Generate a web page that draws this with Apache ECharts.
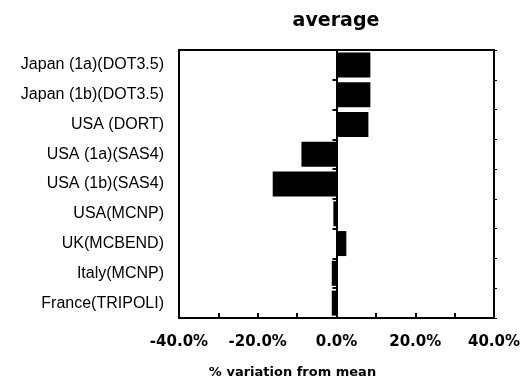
<!DOCTYPE html>
<html>
<head>
<meta charset="utf-8">
<script src="https://cdn.jsdelivr.net/npm/echarts@6/dist/echarts.min.js"></script>
<style>html,body{margin:0;padding:0;background:#fff}#c{width:528px;height:387px}</style>
</head>
<body>
<div id="c"></div>
<script>
const categories = ['Japan (1a)(DOT3.5)', 'Japan (1b)(DOT3.5)', 'USA (DORT)', 'USA (1a)(SAS4)', 'USA (1b)(SAS4)', 'USA(MCNP)', 'UK(MCBEND)', 'Italy(MCNP)', 'France(TRIPOLI)'];
const variation = [8.6, 8.6, 8.1, -8.9, -16.2, -0.8, 2.5, -1.2, -1.2];
const titleText = 'average';
const xName = '% variation from mean';

const chart = echarts.init(document.getElementById('c'), null, {renderer: 'canvas'});
chart.setOption({
  animation: false,
  backgroundColor: '#fff',
  title: {
    text: titleText, left: 331, top: 7, textAlign: 'center',
    textStyle: {fontFamily: 'DejaVu Sans', fontWeight: 'bold', fontSize: 19, color: '#000'}
  },
  grid: {left: 179, right: 34, top: 50, bottom: 69, show: true, borderColor: '#000', borderWidth: 2, containLabel: false},
  xAxis: {
    type: 'value', min: -40, max: 40, interval: 20,
    axisLine: {show: true, onZero: false, lineStyle: {color: '#000', width: 2}},
    axisTick: {show: true, inside: true, length: 5, lineStyle: {color: '#000', width: 2}},
    minorTick: {show: true, splitNumber: 2, length: 5, lineStyle: {color: '#000', width: 2}},
    splitLine: {show: false},
    axisLabel: {
      margin: 17, color: '#000', fontFamily: 'DejaVu Sans', fontWeight: 'bold', fontSize: 15,
      formatter: v => v.toFixed(1) + '%'
    },
    name: xName, nameLocation: 'middle', nameGap: 48,
    nameTextStyle: {color: '#000', fontFamily: 'DejaVu Sans', fontWeight: 'bold', fontSize: 13, padding: [0, 88, 0, 0]}
  },
  yAxis: [{
    type: 'category', data: categories, inverse: true,
    axisLine: {show: true, lineStyle: {color: '#000', width: 2}},
    axisTick: {show: true, inside: false, length: 4, lineStyle: {color: '#000', width: 2}},
    axisLabel: {margin: 15, color: '#000', fontFamily: 'Liberation Sans', fontSize: 16}
  }, {
    type: 'category', data: categories, inverse: true, position: 'right',
    axisLine: {show: true, lineStyle: {color: '#000', width: 2}},
    axisTick: {show: true, inside: false, length: 3, lineStyle: {color: '#000', width: 1}},
    axisLabel: {show: false}
  }],
  series: [{
    type: 'bar', data: variation, barCategoryGap: '16%',
    itemStyle: {color: '#000'},
    markLine: {
      silent: true, symbol: 'none', label: {show: false},
      lineStyle: {color: '#000', width: 1.5, type: 'solid'},
      data: [{xAxis: 0}]
    }
  }]
});
</script>
</body>
</html>
